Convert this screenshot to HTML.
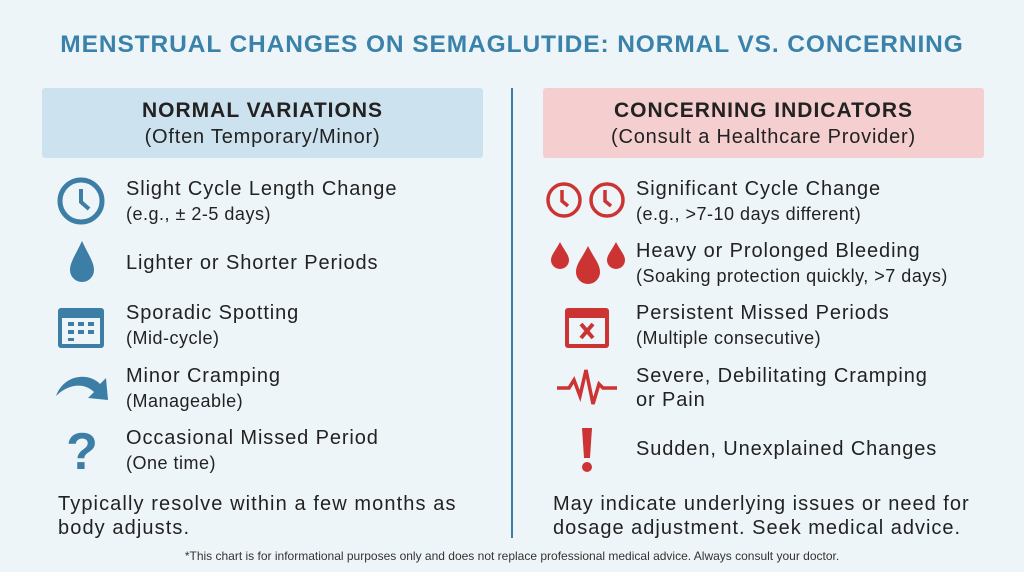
<!DOCTYPE html>
<html><head><meta charset="utf-8"><style>
body{margin:0;width:1024px;height:572px;background:#eef5f8;font-family:"Liberation Sans",sans-serif;position:relative;overflow:hidden;color:#222}
.a{position:absolute;white-space:nowrap}
.t{font-size:20px;letter-spacing:0.9px}
.s{font-size:18px;letter-spacing:0.5px}
svg{position:absolute}
</style></head><body>
<div class="a" style="left:0;width:1024px;text-align:center;top:31px;font-size:24.5px;font-weight:bold;color:#3a82aa;letter-spacing:0.9px">MENSTRUAL CHANGES ON SEMAGLUTIDE: NORMAL VS. CONCERNING</div>
<div class="a" style="left:511px;top:88px;width:2px;height:450px;background:#3d7ea6"></div>
<div class="a" style="left:42px;top:88px;width:441px;height:70px;background:#cde2ef;border-radius:3px;text-align:center">
<div style="margin-top:11px;font-size:21px;font-weight:bold;letter-spacing:1px">NORMAL VARIATIONS</div><div style="font-size:20px;margin-top:3px;letter-spacing:0.8px">(Often Temporary/Minor)</div></div>
<div class="a" style="left:543px;top:88px;width:441px;height:70px;background:#f5cfcf;border-radius:3px;text-align:center">
<div style="margin-top:11px;font-size:21px;font-weight:bold;letter-spacing:1px">CONCERNING INDICATORS</div><div style="font-size:20px;margin-top:3px;letter-spacing:0.8px">(Consult a Healthcare Provider)</div></div>

<svg style="left:56px;top:176px" width="50" height="50"><circle cx="25" cy="25" r="21" fill="none" stroke="#3d7ea6" stroke-width="5"/><path d="M25 13V26L33 33" fill="none" stroke="#3d7ea6" stroke-width="4"/></svg>
<svg style="left:62px;top:238px" width="40" height="50"><path d="M20 3C14 16 8 24 8 32a12 12 0 0 0 24 0C32 24 26 16 20 3Z" fill="#3d7ea6"/></svg>
<svg style="left:56px;top:300px" width="50" height="50"><rect x="2" y="8" width="46" height="40" rx="3" fill="#3d7ea6"/><rect x="6" y="18" width="38" height="26" fill="#eef5f8"/><g fill="#3d7ea6"><rect x="12" y="22" width="6" height="4"/><rect x="22" y="22" width="6" height="4"/><rect x="32" y="22" width="6" height="4"/><rect x="12" y="30" width="6" height="4"/><rect x="22" y="30" width="6" height="4"/><rect x="32" y="30" width="6" height="4"/><rect x="12" y="38" width="6" height="3"/></g></svg>
<svg style="left:54px;top:366px" width="60" height="40"><path d="M2 30C10 8 35 6 46 18L52 12L54 34L34 32L40 26C30 16 14 18 2 30Z" fill="#3d7ea6"/></svg>
<svg style="left:62px;top:424px" width="40" height="50"><text x="20" y="45" text-anchor="middle" font-size="52" font-weight="bold" fill="#3d7ea6" font-family="Liberation Sans">?</text></svg>

<div class="a t" style="left:126px;top:178px">Slight Cycle Length Change</div>
<div class="a s" style="left:126px;top:204px">(e.g., ± 2-5 days)</div>
<div class="a t" style="left:126px;top:252px">Lighter or Shorter Periods</div>
<div class="a t" style="left:126px;top:302px">Sporadic Spotting</div>
<div class="a s" style="left:126px;top:328px">(Mid-cycle)</div>
<div class="a t" style="left:126px;top:365px">Minor Cramping</div>
<div class="a s" style="left:126px;top:391px">(Manageable)</div>
<div class="a t" style="left:126px;top:427px">Occasional Missed Period</div>
<div class="a s" style="left:126px;top:453px">(One time)</div>
<div class="a t" style="left:58px;top:492px;line-height:24px;letter-spacing:1.1px">Typically resolve within a few months as<br>body adjusts.</div>

<svg style="left:544px;top:180px" width="84" height="42"><g fill="none" stroke="#cc3333" stroke-width="3.5"><circle cx="20" cy="20" r="16"/><circle cx="63" cy="20" r="16"/><path d="M18 10V21L24 26M61 10V21L67 26"/></g></svg>
<svg style="left:548px;top:238px" width="80" height="50"><g fill="#cc3333"><path d="M12 4C8 12 3 17 3 22a9 9 0 0 0 18 0C21 17 16 12 12 4Z"/><path d="M40 8C34 20 28 26 28 34a12 12 0 0 0 24 0C52 26 46 20 40 8Z"/><path d="M68 4C64 12 59 17 59 22a9 9 0 0 0 18 0C77 17 72 12 68 4Z"/></g></svg>
<svg style="left:562px;top:302px" width="50" height="48"><rect x="3" y="6" width="44" height="40" rx="3" fill="#cc3333"/><rect x="7" y="16" width="36" height="26" fill="#eef5f8"/><path d="M19 22L31 36M31 22L19 36" stroke="#cc3333" stroke-width="4"/></svg>
<svg style="left:555px;top:366px" width="64" height="42"><path d="M2 22H14L19 14L25 30L31 4L38 38L44 18L48 22H62" fill="none" stroke="#cc3333" stroke-width="3.5"/></svg>
<svg style="left:575px;top:425px" width="24" height="50"><path d="M7 3H17L15 33H9Z" fill="#cc3333"/><circle cx="12" cy="42" r="5" fill="#cc3333"/></svg>

<div class="a t" style="left:636px;top:178px">Significant Cycle Change</div>
<div class="a s" style="left:636px;top:204px">(e.g., &gt;7-10 days different)</div>
<div class="a t" style="left:636px;top:240px">Heavy or Prolonged Bleeding</div>
<div class="a s" style="left:636px;top:266px">(Soaking protection quickly, &gt;7 days)</div>
<div class="a t" style="left:636px;top:302px">Persistent Missed Periods</div>
<div class="a s" style="left:636px;top:328px">(Multiple consecutive)</div>
<div class="a t" style="left:636px;top:365px">Severe, Debilitating Cramping</div>
<div class="a t" style="left:636px;top:389px">or Pain</div>
<div class="a t" style="left:636px;top:438px">Sudden, Unexplained Changes</div>
<div class="a t" style="left:553px;top:492px;line-height:24px;letter-spacing:1px">May indicate underlying issues or need for<br>dosage adjustment. Seek medical advice.</div>

<div class="a" style="left:0;width:1024px;text-align:center;top:549px;font-size:12px;color:#333">*This chart is for informational purposes only and does not replace professional medical advice. Always consult your doctor.</div>
</body></html>
